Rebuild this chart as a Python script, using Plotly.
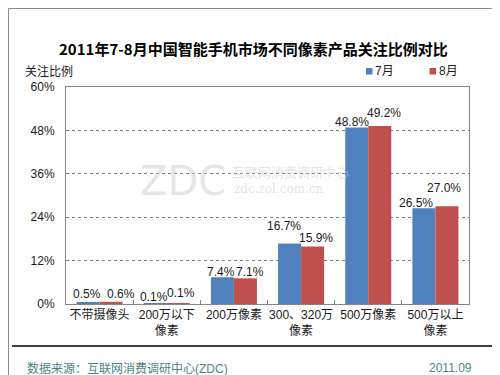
import plotly.graph_objects as go

categories = ["不带摄像头", "200万以下<br>像素", "200万像素", "300、320万<br>像素", "500万像素", "500万以上<br>像素"]
july = [0.5, 0.1, 7.4, 16.7, 48.8, 26.5]
august = [0.6, 0.1, 7.1, 15.9, 49.2, 27.0]
series_names = ["7月", "8月"]
y_ticks = [0, 12, 24, 36, 48, 60]

# label placement offsets (pixels) to mimic the reference's label arrangement
july_label_dx = [-12.6, -12.7, -12.9, -16.6, -16.7, -19.4]
july_label_dy = [8, 7, 5.5, 17.9, 5.2, 5]
aug_label_dx = [21.4, 14.3, 16.1, 14.9, 15.3, 8.6]
aug_label_dy = [8, 10.6, 6.6, 8.5, 13, 18]

COLORS = ["#4F81BD", "#C0504D"]
FONT = "Liberation Sans, Arial, Noto Sans CJK SC, sans-serif"
L, R, T, B = 58, 461, 79, 296
W, H = R - L, B - T

def px(x):
    return (x - L) / W

def py(y):
    return (B - y) / H

fig = go.Figure()
for name, vals, col in [(series_names[0], july, COLORS[0]), (series_names[1], august, COLORS[1])]:
    fig.add_trace(go.Bar(x=categories, y=vals, name=name, marker_color=col, marker_line_width=0))

for vals, dxs, dys in [(july, july_label_dx, july_label_dy), (august, aug_label_dx, aug_label_dy)]:
    for c, v, dx, dy in zip(categories, vals, dxs, dys):
        fig.add_annotation(x=c, y=v, xref="x", yref="y", text=f"{v:.1f}%", showarrow=False,
                           xanchor="center", yanchor="middle", xshift=dx, yshift=dy,
                           font=dict(size=12, family=FONT, color="#1a1a1a"))

fig.update_layout(
    width=500, height=375,
    margin=dict(l=L, r=500 - R, t=T, b=375 - B, autoexpand=False),
    paper_bgcolor="white", plot_bgcolor="white",
    barmode="group", bargap=0.315, bargroupgap=0.0,
    font=dict(family=FONT, size=12, color="#1a1a1a"),
    showlegend=False,
)
fig.update_yaxes(range=[0, 60], tickvals=y_ticks, ticktext=[f"{v}%" for v in y_ticks],
                 showgrid=True, gridcolor="#7f7f7f", griddash="dot", gridwidth=1,
                 zeroline=False, showline=True, linecolor="#868686", mirror=True,
                 ticks="", tickfont=dict(size=12, family=FONT), ticklabelstandoff=8)
fig.update_xaxes(showline=True, linecolor="#868686", mirror=True, ticks="inside",
                 tickson="boundaries", ticklen=4, tickcolor="#868686", tickangle=0,
                 tickfont=dict(size=12, family=FONT))

# title
fig.add_annotation(xref="paper", yref="paper", x=px(245.5), y=py(40),
                   text="<b>2011年7-8月中国智能手机市场不同像素产品关注比例对比</b>",
                   showarrow=False, xanchor="center", yanchor="middle",
                   font=dict(size=15, family="Noto Sans CJK SC, sans-serif", color="black"))

# manual legend
for i, (name, col) in enumerate(zip(series_names, COLORS)):
    x0 = 358 + i * 63.5
    fig.add_shape(type="rect", xref="paper", yref="paper",
                  x0=px(x0), x1=px(x0 + 6.5), y0=py(66.5), y1=py(60),
                  fillcolor=col, line=dict(width=0))
    fig.add_annotation(xref="paper", yref="paper", x=px(x0 + 7), y=py(63), text=name,
                       showarrow=False, xanchor="left", yanchor="middle",
                       font=dict(size=12, family=FONT, color="#1a1a1a"))

# outer frame
fig.add_shape(type="rect", xref="paper", yref="paper",
              x0=px(0.5), x1=px(499.5), y0=py(374.5), y1=py(0.5),
              line=dict(color="#8c8c8c", width=1), layer="below")
# separator line
fig.add_shape(type="line", xref="paper", yref="paper",
              x0=px(4), x1=px(496), y0=py(338), y1=py(338),
              line=dict(color="black", width=1.5))

# watermark
fig.add_annotation(xref="paper", yref="paper", x=px(175), y=py(173), text="ZDC",
                   showarrow=False, font=dict(size=40, color="rgba(205,205,205,0.5)", family="DejaVu Sans"),
                   xanchor="center", yanchor="middle")
fig.add_annotation(xref="paper", yref="paper", x=px(222), y=py(163), text="互联网消费调研中心",
                   showarrow=False, font=dict(size=13, color="rgba(205,205,205,0.55)", family="Noto Sans CJK SC"),
                   xanchor="left", yanchor="middle")
fig.add_annotation(xref="paper", yref="paper", x=px(224), y=py(181), text="zdc.zol.com.cn",
                   showarrow=False, font=dict(size=12, color="rgba(205,205,205,0.55)", family="DejaVu Serif"),
                   xanchor="left", yanchor="middle")

# axis title
fig.add_annotation(xref="paper", yref="paper", x=px(15), y=py(62), text="关注比例",
                   showarrow=False, font=dict(size=12, family="Noto Sans CJK SC", color="#1a1a1a"),
                   xanchor="left", yanchor="middle")
# footer
fig.add_annotation(xref="paper", yref="paper", x=px(17), y=py(360), text="数据来源：互联网消费调研中心(ZDC)",
                   showarrow=False, font=dict(size=12, family=FONT, color="#4f7f8c"),
                   xanchor="left", yanchor="middle")
fig.add_annotation(xref="paper", yref="paper", x=px(466), y=py(360), text="2011.09",
                   showarrow=False, font=dict(size=12, family=FONT, color="#4f7f8c"),
                   xanchor="right", yanchor="middle")

fig.write_html("out.html")
